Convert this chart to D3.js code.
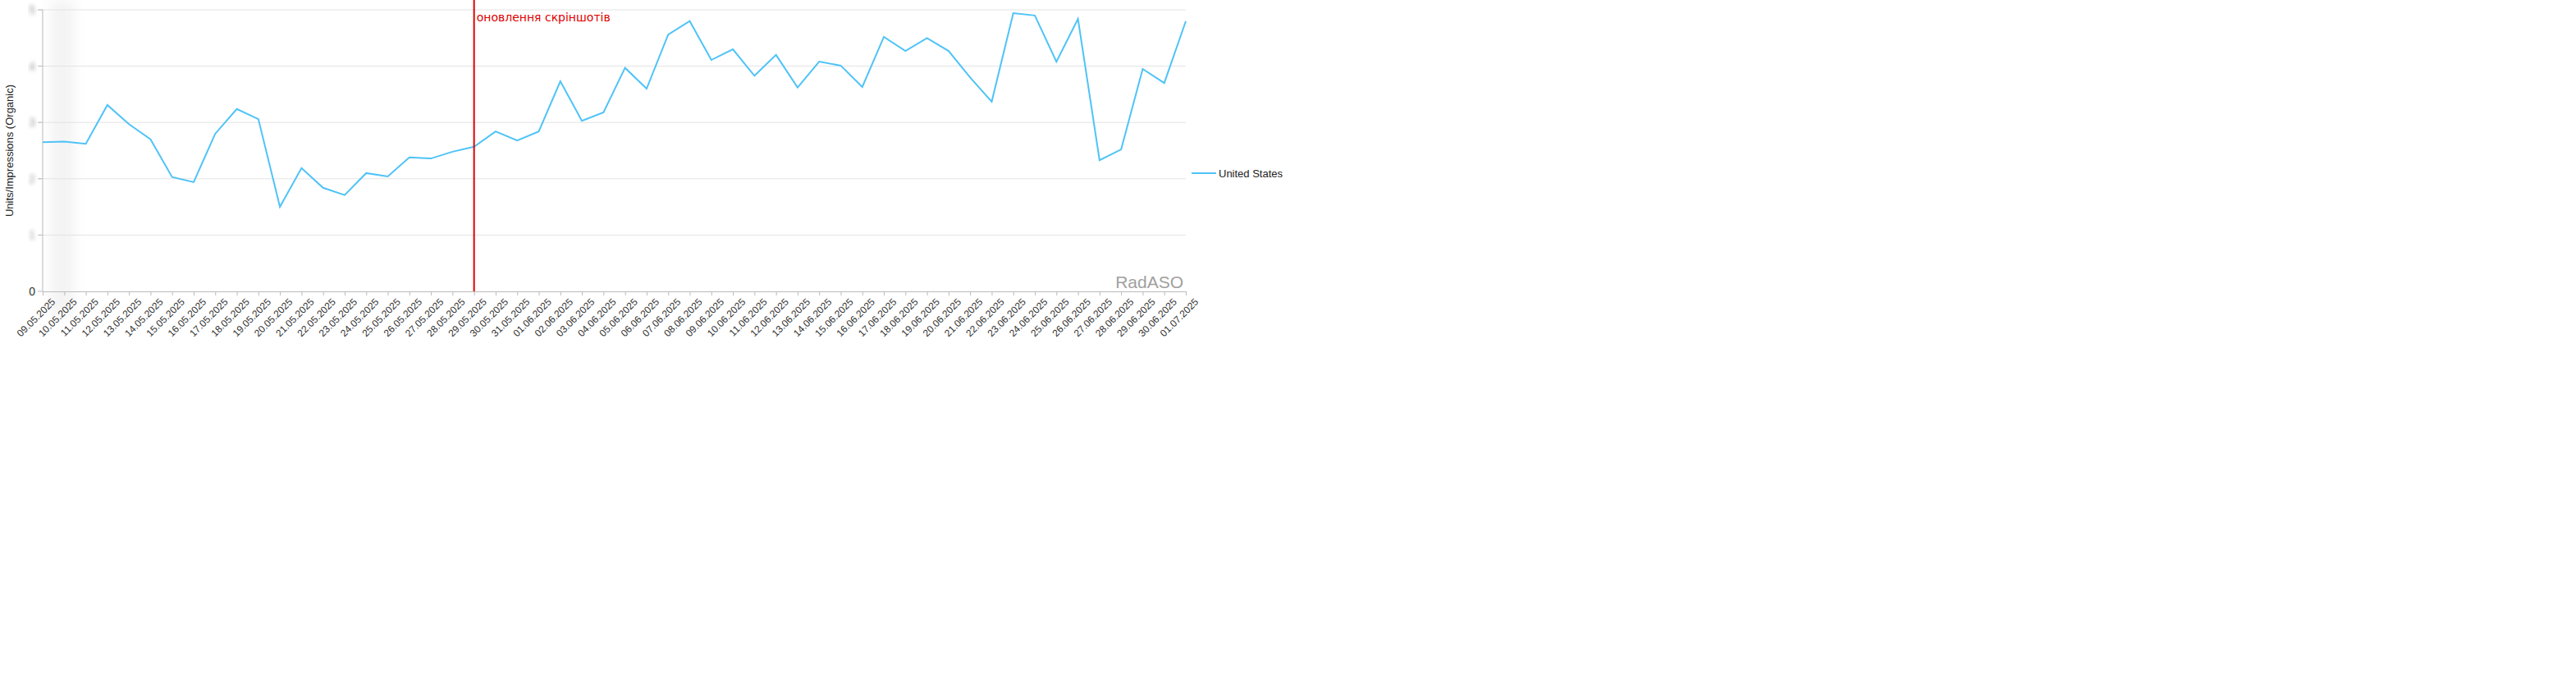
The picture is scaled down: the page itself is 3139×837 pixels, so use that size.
<!DOCTYPE html>
<html><head><meta charset="utf-8">
<script src="https://cdn.jsdelivr.net/npm/d3@7"></script>
<style>body{margin:0;background:#fff;font-family:"Liberation Sans",Arial,sans-serif}</style>
</head><body>
<svg id="chart" width="3139" height="837"></svg>
<script>
var dates = ["09.05.2025","10.05.2025","11.05.2025","12.05.2025","13.05.2025","14.05.2025","15.05.2025","16.05.2025","17.05.2025","18.05.2025","19.05.2025","20.05.2025","21.05.2025","22.05.2025","23.05.2025","24.05.2025","25.05.2025","26.05.2025","27.05.2025","28.05.2025","29.05.2025","30.05.2025","31.05.2025","01.06.2025","02.06.2025","03.06.2025","04.06.2025","05.06.2025","06.06.2025","07.06.2025","08.06.2025","09.06.2025","10.06.2025","11.06.2025","12.06.2025","13.06.2025","14.06.2025","15.06.2025","16.06.2025","17.06.2025","18.06.2025","19.06.2025","20.06.2025","21.06.2025","22.06.2025","23.06.2025","24.06.2025","25.06.2025","26.06.2025","27.06.2025","28.06.2025","29.06.2025","30.06.2025","01.07.2025"];
var usValues = [2.65,2.66,2.62,3.31,2.97,2.70,2.03,1.94,2.80,3.24,3.06,1.50,2.19,1.84,1.71,2.10,2.04,2.38,2.36,2.48,2.57,2.84,2.68,2.84,3.73,3.03,3.18,3.97,3.60,4.56,4.80,4.11,4.30,3.83,4.20,3.62,4.08,4.01,3.63,4.52,4.27,4.50,4.27,3.80,3.37,4.94,4.90,4.08,4.84,2.33,2.52,3.95,3.70,4.80];
var yTicks = [0,1,2,3,4,5];
var markerDate = "29.05.2025";
var markerText = "оновлення скріншотів";

var svg = d3.select("#chart");
var plotL = 52, plotR = 1445, plotT = 12, plotB = 355;

var x = d3.scalePoint().domain(dates).range([plotL, plotR]);
var y = d3.scaleLinear().domain([0, 5]).range([plotB, plotT]);

var defs = svg.append("defs");
defs.append("filter").attr("id", "blur").append("feGaussianBlur").attr("stdDeviation", 2.5);
defs.append("filter").attr("id", "blurBig").attr("x", "-50%").attr("width", "200%")
	.append("feGaussianBlur").attr("stdDeviation", 8);

// blurred backdrop behind the hidden axis labels
svg.append("rect").attr("x", 62).attr("y", 0).attr("width", 28).attr("height", 385)
	.attr("fill", "#f3f3f3").attr("filter", "url(#blurBig)");

// grid
svg.append("g").selectAll("line").data(yTicks.slice(1)).join("line")
	.attr("x1", plotL - 6).attr("x2", plotR).attr("y1", d => y(d)).attr("y2", d => y(d))
	.attr("stroke", "#e3e3e3").attr("stroke-width", 1);

// y labels
svg.append("g").selectAll("text").data(yTicks).join("text")
	.attr("x", 43).attr("y", d => y(d) + 5)
	.attr("text-anchor", "end").attr("font-size", 14)
	.attr("fill", d => d === 0 ? "#333" : "#999")
	.attr("filter", d => d === 0 ? null : "url(#blur)")
	.text(d => d);

// x axis
var xAxis = svg.append("g").attr("transform", "translate(0," + plotB + ")")
	.call(d3.axisBottom(x).tickSize(5).tickSizeOuter(0));
xAxis.select(".domain").attr("stroke", "#bbb");
xAxis.selectAll(".tick line").attr("stroke", "#bbb");
xAxis.selectAll("text")
	.attr("font-size", 12).attr("fill", "#333")
	.attr("font-family", "Liberation Sans, Arial, sans-serif")
	.attr("text-anchor", "end")
	.attr("transform", "translate(4,2) rotate(-45)")
	.attr("dy", "0.7em");

// y axis line
svg.append("line").attr("x1", plotL).attr("x2", plotL).attr("y1", plotT).attr("y2", plotB)
	.attr("stroke", "#bbb");
svg.append("g").selectAll("line").data(yTicks).join("line")
	.attr("x1", plotL - 6).attr("x2", plotL).attr("y1", d => y(d)).attr("y2", d => y(d))
	.attr("stroke", "#bbb");

// axis title
svg.append("text").attr("transform", "translate(16," + ((plotT + plotB) / 2) + ") rotate(-90)")
	.attr("text-anchor", "middle").attr("font-size", 13).attr("fill", "#222")
	.text("Units/Impressions (Organic)");

// line
svg.append("path").datum(usValues)
	.attr("fill", "none").attr("stroke", "#4fc3f7").attr("stroke-width", 2)
	.attr("d", d3.line().x((d, i) => x(dates[i])).y(d => y(d)));

// marker
var mx = x(markerDate);
svg.append("line").attr("x1", mx).attr("x2", mx).attr("y1", 0).attr("y2", plotB)
	.attr("stroke", "#e00000").attr("stroke-width", 2);
svg.append("text").attr("x", mx + 3).attr("y", 26).attr("fill", "#e00000")
	.attr("font-size", 14).attr("font-family", "DejaVu Sans, sans-serif").text(markerText);

// legend
svg.append("line").attr("x1", 1452).attr("x2", 1482).attr("y1", 211).attr("y2", 211)
	.attr("stroke", "#4fc3f7").attr("stroke-width", 2);
svg.append("text").attr("x", 1485).attr("y", 216).attr("font-size", 13).attr("fill", "#222")
	.text("United States");

// watermark
svg.append("text").attr("x", 1442).attr("y", 351).attr("text-anchor", "end")
	.attr("font-size", 21).attr("fill", "#a0a0a0").text("RadASO");
</script>
</body></html>
